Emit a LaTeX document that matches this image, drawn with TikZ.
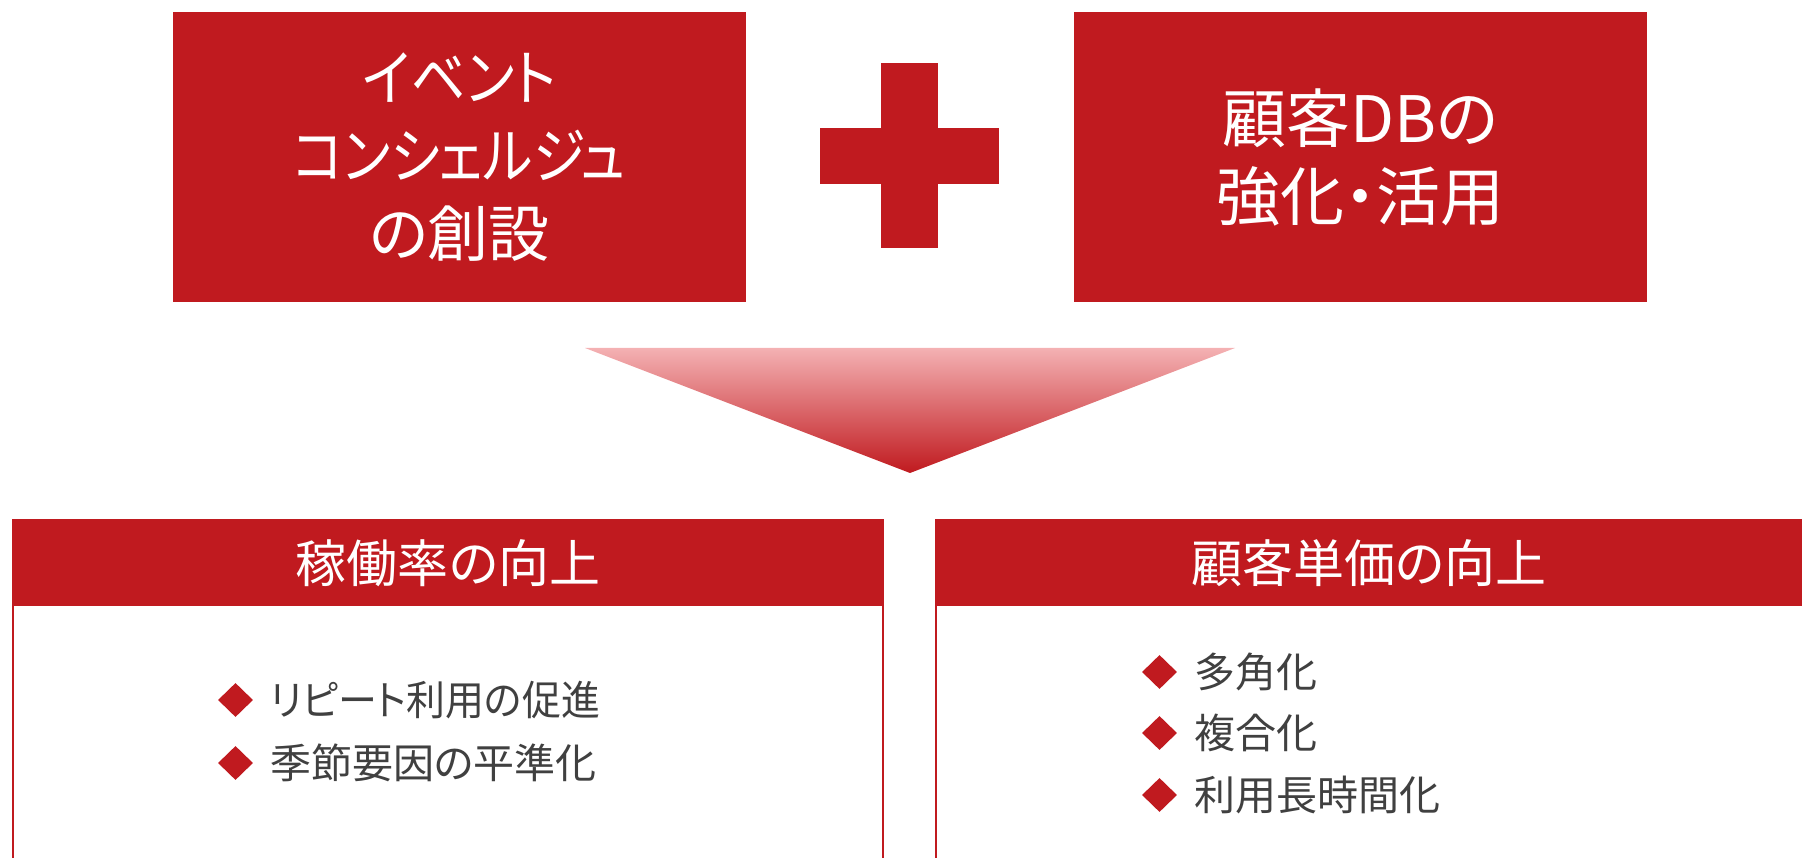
\documentclass[tikz,border=0pt]{standalone}
\usepackage{fontspec}
\usepackage{graphicx}
\setmainfont[RawFeature=+palt]{Noto Sans CJK JP}
\usetikzlibrary{shapes.geometric}
\definecolor{cred}{HTML}{C01A1F}
\definecolor{ctext}{HTML}{404040}
\definecolor{cpink}{HTML}{F4B1B3}
\definecolor{cmid}{HTML}{E65C63}
\tikzset{
  topbox/.style={fill=cred, text=white, inner sep=0pt, align=center,
    minimum width=573pt, minimum height=290pt, font=\fontsize{61}{78}\selectfont},
  headbox/.style={fill=cred, text=white, inner sep=0pt,
    minimum height=86pt, font=\fontsize{51}{60}\selectfont},
  bodybox/.style={draw=cred, line width=1.5pt, fill=white},
  bulletmark/.style={diamond, fill=cred, inner sep=0pt, minimum width=35pt, minimum height=34pt},
  bullettext/.style={anchor=west, inner sep=0pt, text=ctext, font=\fontsize{41}{50}\selectfont}
}
\begin{document}
\begin{tikzpicture}[x=1pt,y=-1pt]
\path[use as bounding box] (0,0) rectangle (1802,858);
\clip (0,0) rectangle (1802,858);
% top boxes
\node[topbox] (ev) at (459.5,157) {\scalebox{0.89}[1]{イベント}\\\scalebox{0.87}[1]{コンシェルジュ}\\の創設};
\node[topbox, font=\fontsize{64}{78}\selectfont] (db) at (1360,157) {顧客DBの\\強化・活用};
% plus
\fill[cred] (881,63) rectangle (938,248);
\fill[cred] (820,128) rectangle (999,184);
% arrow
\shade[top color=cpink, middle color=cmid, bottom color=cred] (585,348) -- (1235,348) -- (910,473) -- cycle;
% bottom boxes
\draw[bodybox] (13,520) rectangle (883,880);
\draw[bodybox] (936,520) rectangle (1830,880);
\node[headbox, minimum width=871pt] (h1) at (448,563) {稼働率の向上};
\node[headbox, minimum width=895pt] (h2) at (1383,563) {};
\node[text=white, inner sep=0pt, font=\fontsize{51}{60}\selectfont] (t2) at (1369,563) {顧客単価の向上};
% left bullets
\node[bulletmark] (d1) at (235.5,700) {};
\node[bullettext] (b1) at (270,700) {\scalebox{0.95}[1]{リピート利用の促進}};
\node[bulletmark] (d2) at (235.5,763) {};
\node[bullettext] (b2) at (270,763) {季節要因の平準化};
% right bullets
\node[bulletmark] (d3) at (1159.5,672) {};
\node[bullettext] (b3) at (1194,672) {多角化};
\node[bulletmark] (d4) at (1159.5,733) {};
\node[bullettext] (b4) at (1194,733) {複合化};
\node[bulletmark] (d5) at (1159.5,795) {};
\node[bullettext] (b5) at (1194,795) {利用長時間化};
\end{tikzpicture}
\end{document}
